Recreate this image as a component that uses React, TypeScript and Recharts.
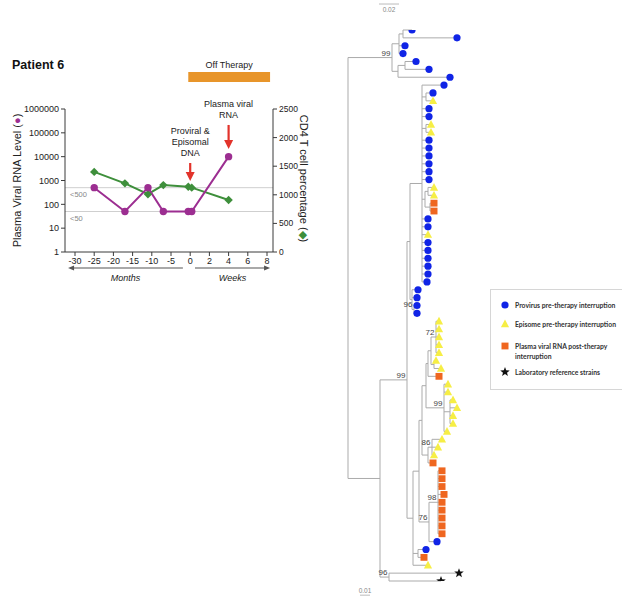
import React from 'react';
import {
  ComposedChart, Line, Scatter, XAxis, YAxis, ReferenceLine, ReferenceArea,
} from 'recharts';

const PURPLE = '#9C2E91';
const GREEN = '#3E8F3B';
const RED = '#E2332B';
const ORANGE_BAR = '#E8952A';
const BLUE = '#1024E6';
const YELLOW = '#F6EE45';
const ORANGE = '#EF661F';
const TREE = '#ABABAB';
const AXIS = '#3a3a3a';
const FONT = '"Liberation Sans", Arial, sans-serif';

// timeline: months before stopping therapy, then weeks (1 week = 2.5 axis units)
const sampleTimes = [-25, -17, -11, -7, -0.5, 0.4, 10];
const viralLoad = [500, 50, 500, 50, 50, 50, 10000];
const cd4Count = [1400, 1200, 1010, 1170, 1140, 1125, 910];

const timeTicks = [-30, -25, -20, -15, -10, -5, 0, 5, 10, 15, 20];
const timeTickLabels = ['-30', '-25', '-20', '-15', '-10', '-5', '0', '2', '4', '6', '8'];
const viralTicks = [1, 10, 100, 1000, 10000, 100000, 1000000];
const cd4Ticks = [0, 500, 1000, 1500, 2000, 2500];
const detectionLimits = [500, 50];

// tree leaves top to bottom. P provirus, E episome, R plasma RNA, L lab reference
const leafTypes = [
  'P', 'P', 'P', 'P', 'P', 'P', 'P',
  'P', 'P', 'E', 'P', 'P', 'E', 'E', 'P', 'P', 'P', 'P', 'P', 'P', 'E', 'E', 'R', 'R',
  'P', 'P', 'E', 'P', 'P', 'P', 'P', 'P', 'P', 'P', 'P', 'P', 'P',
  'E', 'E', 'E', 'E', 'E', 'E', 'E', 'R', 'E', 'E', 'E', 'E', 'E', 'E', 'E', 'E', 'E', 'E',
  'R', 'R', 'R', 'R', 'R', 'R', 'R', 'R', 'R', 'R', 'P', 'P', 'R', 'E',
  'L', 'L',
];
// distance of each leaf from the root
const leafDepths = [
  0.064, 0.109, 0.057, 0.055, 0.068, 0.081, 0.102,
  0.096, 0.085, 0.085, 0.081, 0.081, 0.083, 0.083, 0.081, 0.081, 0.081, 0.081, 0.081, 0.081,
  0.086, 0.086, 0.086, 0.086, 0.080, 0.080, 0.080, 0.080, 0.080, 0.080, 0.080, 0.080, 0.079,
  0.070, 0.069, 0.069, 0.069,
  0.091, 0.091, 0.091, 0.091, 0.091, 0.088, 0.093, 0.091, 0.100, 0.100, 0.105, 0.109, 0.105,
  0.105, 0.099, 0.094, 0.090, 0.086, 0.085,
  0.094, 0.094, 0.094, 0.096, 0.094, 0.094, 0.094, 0.094, 0.094, 0.089, 0.078, 0.076, 0.080,
  0.111, 0.093,
];
// internal nodes: [id, depth, children (leaf index or node id), bootstrap]
const treeNodes: [string, number, (number | string)[], number?][] = [
  ['t1', 0.055, [0, 1]],
  ['t2', 0.051, ['t1', 2, 3]],
  ['t3', 0.057, [4, 5]],
  ['t4', 0.050, ['t3', 6]],
  ['A', 0.044, ['t2', 't4'], 99],
  ['b1', 0.078, [8, 9]],
  ['b2', 0.078, [12, 13]],
  ['b3', 0.080, [20, 21]],
  ['b4', 0.082, [22, 23]],
  ['b5', 0.077, ['b3', 'b4']],
  ['b0', 0.074, [7, 'b1', 10, 11, 'b2', 14, 15, 16, 17, 18, 19, 'b5', 24, 25, 26, 27, 28, 29, 30, 31, 32]],
  ['b7', 0.066, [35, 36], 96],
  ['b6', 0.064, [33, 34, 'b7']],
  ['blue', 0.062, ['b0', 'b6']],
  ['l1', 0.088, [37, 38, 39, 40, 41], 72],
  ['l2', 0.086, [42, 43]],
  ['l3', 0.083, ['l1', 'l2']],
  ['l5', 0.080, ['l3', 44]],
  ['l6', 0.102, [47, 48, 49, 50]],
  ['l7', 0.096, [45, 46, 'l6', 51], 99],
  ['l8', 0.078, ['l5', 'l7']],
  ['l9', 0.084, [52, 53, 54], 86],
  ['l10', 0.080, ['l9', 55]],
  ['l11', 0.074, ['l8', 'l10']],
  ['l12', 0.090, [56, 57, 58, 59, 60, 61, 62, 63, 64], 98],
  ['l13', 0.081, ['l12', 65], 76],
  ['l14', 0.071, ['l11', 'l13']],
  ['l15', 0.070, [66, 67]],
  ['l16', 0.065, ['l14', 'l15', 68]],
  ['n407', 0.059, ['blue', 'l16'], 99],
  ['stars', 0.041, [69, 70], 96],
  ['n380', 0.032, ['n407', 'stars']],
  ['root', 0, ['A', 'n380']],
];

const legendKinds = ['P', 'E', 'R', 'L'];
const legendLabels = [
  'Provirus pre-therapy interruption',
  'Episome pre-therapy interruption',
  'Plasma viral RNA post-therapy interruption',
  'Laboratory reference strains',
];

const timeline = sampleTimes.map((t, i) => ({ t, rna: viralLoad[i], cd4: cd4Count[i] }));

const nodeById = new Map(treeNodes.map((n) => [n[0], n]));
const depthOf = (c: number | string): number => (typeof c === 'number' ? leafDepths[c] : nodeById.get(c)![1]);
const rowOf = (c: number | string): number => {
  if (typeof c === 'number') return c;
  const kids = nodeById.get(c)![2];
  return (rowOf(kids[0]) + rowOf(kids[kids.length - 1])) / 2;
};

const treeSegments: { x1: number; y1: number; x2: number; y2: number }[] = [];
treeNodes.forEach(([id, depth, kids]) => {
  treeSegments.push({ x1: depth, y1: rowOf(kids[0]), x2: depth, y2: rowOf(kids[kids.length - 1]) });
  kids.forEach((k) => treeSegments.push({ x1: depth, y1: rowOf(k), x2: depthOf(k), y2: rowOf(k) }));
});

const leafPoints = leafTypes.map((t, i) => ({ x: leafDepths[i], y: i, t }));
const supportPoints = treeNodes
  .filter((n) => n[3] !== undefined)
  .map((n) => ({ x: n[1], y: rowOf(n[0]), label: n[3] }));

const starPoints = (cx: number, cy: number, ro: number, ri: number) => {
  const pts: string[] = [];
  for (let i = 0; i < 10; i++) {
    const r = i % 2 === 0 ? ro : ri;
    const a = -Math.PI / 2 + (i * Math.PI) / 5;
    pts.push(`${cx + r * Math.cos(a)},${cy + r * Math.sin(a)}`);
  }
  return pts.join(' ');
};

const LeafMark = ({ kind, cx, cy }: { kind: string; cx: number; cy: number }) => {
  if (kind === 'P') return <circle cx={cx} cy={cy} r={3.6} fill={BLUE} />;
  if (kind === 'E') return <polygon points={`${cx},${cy - 4.4} ${cx + 4.1},${cy + 3.2} ${cx - 4.1},${cy + 3.2}`} fill={YELLOW} />;
  if (kind === 'R') return <rect x={cx - 3.5} y={cy - 3.4} width={7} height={6.8} fill={ORANGE} />;
  return <polygon points={starPoints(cx, cy, 5, 2.1)} fill="#111" />;
};

const downArrow = (lines: string[]) => (p: any) => {
  const { x1, y1, x2, y2 } = p;
  return (
    <g>
      <text x={x1} y={y1 - 7 - (lines.length - 1) * 11} textAnchor="middle" fontSize={9} fill="#222">
        {lines.map((l, i) => (
          <tspan key={l} x={x1} dy={i === 0 ? 0 : 11}>{l}</tspan>
        ))}
      </text>
      <line x1={x1} y1={y1} x2={x2} y2={y2 - 7} stroke={RED} strokeWidth={2.2} />
      <polygon points={`${x2 - 4.5},${y2 - 9} ${x2 + 4.5},${y2 - 9} ${x2},${y2}`} fill={RED} />
    </g>
  );
};

const timeArrow = (label: string) => (p: any) => {
  const { x1, y1, x2, y2 } = p;
  const dir = x2 > x1 ? 1 : -1;
  return (
    <g>
      <line x1={x1} y1={y1} x2={x2 - dir * 5} y2={y2} stroke="#555" strokeWidth={1.2} />
      <polygon points={`${x2},${y2} ${x2 - dir * 6},${y2 - 2.5} ${x2 - dir * 6},${y2 + 2.5}`} fill="#555" />
      <text x={(x1 + x2) / 2} y={y1 + 13} textAnchor="middle" fontSize={9} fontStyle="italic" fill="#222">{label}</text>
    </g>
  );
};

const limitLine = (label: string) => (p: any) => (
  <g>
    <line x1={p.x1} y1={p.y1} x2={p.x2} y2={p.y2} stroke="#cfcfcf" strokeWidth={1} />
    <text x={p.x1 + 5} y={p.y1 + 9} fontSize={7.5} fill="#888">{label}</text>
  </g>
);

const scaleBar = (label: string, textDy: number) => (p: any) => (
  <g>
    <line x1={p.x1} y1={p.y1} x2={p.x2} y2={p.y2} stroke="#bbb" strokeWidth={1} />
    <text x={(p.x1 + p.x2) / 2} y={p.y1 + textDy} textAnchor="middle" fontSize={6.5} fill="#888">{label}</text>
  </g>
);

const Diamond = (p: any) => {
  const { cx, cy } = p;
  return <polygon points={`${cx},${cy - 4.2} ${cx + 4.2},${cy} ${cx},${cy + 4.2} ${cx - 4.2},${cy}`} fill={GREEN} />;
};

const TimelineChart = () => (
  <ComposedChart width={330} height={300} data={timeline} margin={{ top: 109, right: 7, bottom: 28, left: 8 }}>
    <XAxis
      dataKey="t" type="number" domain={[-30, 20]} ticks={timeTicks} interval={0} allowDataOverflow
      padding={{ left: 10, right: 6 }} height={20} tickSize={4}
      tickFormatter={(v) => timeTickLabels[timeTicks.indexOf(v)]}
      tick={{ fontSize: 9, fill: '#222' }} stroke={AXIS}
    />
    <YAxis
      yAxisId="rna" type="number" scale="log" domain={[1, 1000000]} ticks={viralTicks} interval={0} allowDataOverflow
      width={57} tickSize={4} tick={{ fontSize: 9, fill: '#222' }} stroke={AXIS}
      label={{
        content: (props: any) => {
          const vb = props.viewBox;
          const x = vb.x + 13;
          const y = vb.y + vb.height / 2;
          return (
            <text x={x} y={y} transform={`rotate(-90, ${x}, ${y})`} textAnchor="middle" fontSize={11} fill="#222">
              Plasma Viral RNA Level (<tspan fill={PURPLE}>●</tspan>)
            </text>
          );
        },
      }}
    />
    <YAxis
      yAxisId="cd4" orientation="right" type="number" domain={[0, 2500]} ticks={cd4Ticks} interval={0}
      width={50} tickSize={4} tick={{ fontSize: 8.5, fill: '#222' }} stroke={AXIS}
      label={{
        content: (props: any) => {
          const vb = props.viewBox;
          const x = vb.x + 27;
          const y = vb.y + vb.height / 2 - 2;
          return (
            <text x={x} y={y} transform={`rotate(90, ${x}, ${y})`} textAnchor="middle" fontSize={11} fill="#222">
              CD4 T cell percentage (<tspan fill={GREEN}>◆</tspan>)
            </text>
          );
        },
      }}
    />
    {detectionLimits.map((v) => (
      <ReferenceLine key={v} yAxisId="rna" y={v} shape={limitLine(`<${v}`)} />
    ))}
    <ReferenceArea
      yAxisId="rna" x1={-0.5} x2={20.8} y1={1.36e7} y2={3.57e7} ifOverflow="visible"
      fill={ORANGE_BAR} fillOpacity={1} stroke="none"
      label={{ value: 'Off Therapy', position: 'top', offset: 4, fontSize: 9, fill: '#222' }}
    />
    <ReferenceLine
      yAxisId="rna" ifOverflow="visible" segment={[{ x: 0, y: 5430 }, { x: 0, y: 955 }]}
      shape={downArrow(['Proviral &', 'Episomal', 'DNA'])}
    />
    <ReferenceLine
      yAxisId="rna" ifOverflow="visible" segment={[{ x: 10, y: 214000 }, { x: 10, y: 20900 }]}
      shape={downArrow(['Plasma viral', 'RNA'])}
    />
    <ReferenceLine
      yAxisId="rna" ifOverflow="visible" segment={[{ x: -1.9, y: 0.213 }, { x: -31.8, y: 0.213 }]}
      shape={timeArrow('Months')}
    />
    <ReferenceLine
      yAxisId="rna" ifOverflow="visible" segment={[{ x: 1.25, y: 0.213 }, { x: 20.8, y: 0.213 }]}
      shape={timeArrow('Weeks')}
    />
    <Line
      yAxisId="cd4" dataKey="cd4" stroke={GREEN} strokeWidth={2} isAnimationActive={false}
      dot={(p: any) => <Diamond key={`d${p.index}`} cx={p.cx} cy={p.cy} />}
    />
    <Line
      yAxisId="rna" dataKey="rna" stroke={PURPLE} strokeWidth={2} isAnimationActive={false}
      dot={{ r: 3.7, fill: PURPLE, stroke: PURPLE, strokeWidth: 0 }}
    />
  </ComposedChart>
);

const TreeChart = () => (
  <ComposedChart width={140} height={596} margin={{ top: 30, right: 12, bottom: 15, left: 8 }}>
    <XAxis type="number" dataKey="x" domain={[0, 0.12]} hide allowDataOverflow />
    <YAxis type="number" dataKey="y" domain={[0, 70]} reversed hide allowDataOverflow />
    {treeSegments.map((s, i) => (
      <ReferenceLine
        key={i} ifOverflow="visible" stroke={TREE} strokeWidth={1}
        segment={[{ x: s.x1, y: s.y1 }, { x: s.x2, y: s.y2 }]}
      />
    ))}
    <ReferenceLine ifOverflow="visible" segment={[{ x: 0.031, y: -3.3 }, { x: 0.051, y: -3.3 }]} shape={scaleBar('0.02', 8)} />
    <ReferenceLine ifOverflow="visible" segment={[{ x: 0.012, y: 71.8 }, { x: 0.022, y: 71.8 }]} shape={scaleBar('0.01', -2.5)} />
    {legendKinds.map((k) => (
      <Scatter
        key={k} data={leafPoints.filter((p) => p.t === k)} isAnimationActive={false}
        shape={(p: any) => <LeafMark kind={k} cx={p.cx} cy={p.cy} />}
      />
    ))}
    <Scatter
      data={supportPoints} isAnimationActive={false}
      shape={(p: any) => (
        <text x={p.cx - 1.5} y={p.cy - 2} textAnchor="end" fontSize={8} fill="#444">{p.payload.label}</text>
      )}
    />
  </ComposedChart>
);

const legendRowTops = [10, 29, 51, 77];

const TreeLegend = () => (
  <div
    style={{
      position: 'absolute', left: 490, top: 289, width: 132, height: 101, boxSizing: 'border-box',
      borderTop: '1px solid #d6d6d6', borderLeft: '1px solid #d6d6d6', borderBottom: '1px solid #d6d6d6',
      background: '#fff', fontFamily: 'Lato, "Liberation Sans", sans-serif', fontWeight: 700, fontSize: 6.8,
      color: '#333', lineHeight: '10px',
    }}
  >
    {legendKinds.map((k, i) => (
      <div key={k} style={{ position: 'absolute', left: 8, top: legendRowTops[i], display: 'flex', alignItems: 'flex-start' }}>
        <svg width={12} height={10} style={{ flex: 'none' }}>
          <LeafMark kind={k} cx={6} cy={5} />
        </svg>
        <div style={{ marginLeft: 4, width: 104 }}>{legendLabels[i]}</div>
      </div>
    ))}
  </div>
);

export default function App() {
  return (
    <div
      style={{
        position: 'absolute', left: 0, top: 0, width: 622, height: 596, overflow: 'hidden',
        background: '#fff', fontFamily: FONT,
      }}
    >
      <div style={{ position: 'absolute', left: 12, top: 58, fontSize: 12.5, fontWeight: 700, color: '#111' }}>
        Patient 6
      </div>
      <div style={{ position: 'absolute', left: 0, top: 0 }}>
        <TimelineChart />
      </div>
      <div style={{ position: 'absolute', left: 340, top: 0 }}>
        <TreeChart />
      </div>
      <TreeLegend />
    </div>
  );
}
